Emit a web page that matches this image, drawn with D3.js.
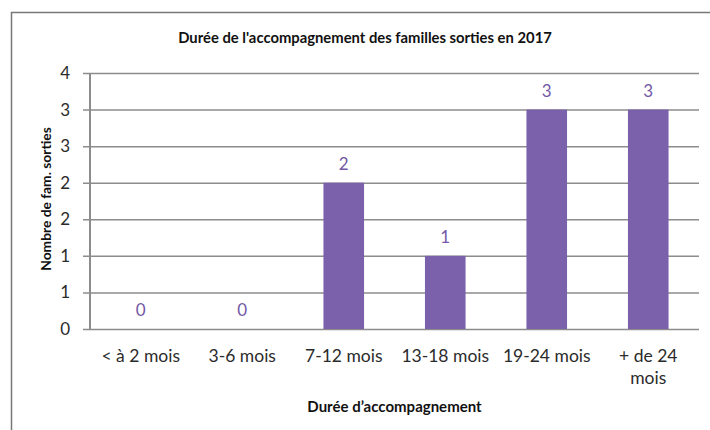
<!DOCTYPE html>
<html>
<head>
<meta charset="utf-8">
<script src="https://cdn.jsdelivr.net/npm/d3@7"></script>
<style>
    body { margin: 0; background: #fff; }
    svg { display: block; font-family: Lato, "Open Sans", sans-serif; }
</style>
</head>
<body>
<div id="chart"></div>
<script>
// Chart data
const categories = ['< à 2 mois', '3-6 mois', '7-12 mois', '13-18 mois', '19-24 mois', '+ de 24 mois'];
const familles = [0, 0, 2, 1, 3, 3];
const yTicks = [0, 0.5, 1, 1.5, 2, 2.5, 3, 3.5];

const chartTitle = "Durée de l'accompagnement des familles sorties en 2017";
const yTitle = 'Nombre de fam. sorties';
const xTitle = 'Durée d’accompagnement';

function renderChart() {
    const W = 710, H = 430;
    const margin = { top: 73, right: 11, bottom: 101, left: 90 };
    const width = W - margin.left - margin.right;
    const height = H - margin.top - margin.bottom;
    const barColor = '#7b61ab';
    const gridColor = '#8c8c8c';
    const textColor = '#2b2b2b';

    const svg = d3.select('#chart').append('svg')
        .attr('width', W)
        .attr('height', H);

    // Outer frame
    svg.append('rect')
        .attr('x', 11.5)
        .attr('y', 12.5)
        .attr('width', W + 10)
        .attr('height', H + 10)
        .attr('fill', 'none')
        .attr('stroke', '#777')
        .attr('stroke-width', 1.5);

    svg.append('text')
        .attr('x', 365)
        .attr('y', 43)
        .attr('text-anchor', 'middle')
        .attr('fill', '#111')
        .style('font-size', '14.8px')
        .style('font-weight', 'bold')
        .text(chartTitle);

    const g = svg.append('g')
        .attr('transform', `translate(${margin.left}, ${margin.top})`);

    const x = d3.scaleBand()
        .domain(categories)
        .range([0, width])
        .paddingInner(0.6)
        .paddingOuter(0.3);

    const y = d3.scaleLinear()
        .domain([0, 3.5])
        .range([height, 0]);

    // Grid lines + tick labels
    g.append('g')
        .call(d3.axisLeft(y)
            .tickValues(yTicks)
            .tickSize(-width - 7)
            .tickPadding(20)
            .tickFormat(d => Math.round(d)))
        .call(ax => ax.select('.domain').remove())
        .call(ax => ax.selectAll('.tick line')
            .attr('transform', 'translate(-7,0)')
            .attr('stroke', gridColor)
            .attr('stroke-width', 1.5))
        .call(ax => ax.selectAll('text')
            .attr('fill', textColor)
            .style('font-size', '17px')
            .style('font-family', 'Lato, sans-serif'));

    // Bars
    g.selectAll('.bar')
        .data(familles)
        .enter()
        .append('rect')
        .attr('class', 'bar')
        .attr('x', (d, i) => x(categories[i]))
        .attr('y', d => y(d))
        .attr('width', x.bandwidth())
        .attr('height', d => height - y(d))
        .attr('fill', barColor);

    // Value labels
    g.selectAll('.val')
        .data(familles)
        .enter()
        .append('text')
        .attr('class', 'val')
        .attr('x', (d, i) => x(categories[i]) + x.bandwidth() / 2)
        .attr('y', d => y(d) - 13)
        .attr('text-anchor', 'middle')
        .attr('fill', '#7258a6')
        .style('font-size', '17px')
        .text(d => d);

    // Vertical axis line
    g.append('line')
        .attr('x1', 0).attr('x2', 0)
        .attr('y1', 0).attr('y2', height)
        .attr('stroke', gridColor)
        .attr('stroke-width', 2);

    // Category labels (wrap long ones)
    const xAxis = g.append('g')
        .attr('transform', `translate(0, ${height})`);
    categories.forEach(c => {
        const lines = c === '+ de 24 mois' ? ['+ de 24', 'mois'] : [c];
        const t = xAxis.append('text')
            .attr('x', x(c) + x.bandwidth() / 2)
            .attr('y', 33)
            .attr('text-anchor', 'middle')
            .attr('fill', textColor)
            .style('font-size', '17.5px');
        lines.forEach((l, k) => {
            t.append('tspan')
                .attr('x', x(c) + x.bandwidth() / 2)
                .attr('dy', k === 0 ? 0 : 22)
                .text(l);
        });
    });

    // Axis titles
    svg.append('text')
        .attr('x', margin.left + width / 2)
        .attr('y', 412)
        .attr('text-anchor', 'middle')
        .attr('fill', '#111')
        .style('font-size', '15px')
        .style('font-weight', 'bold')
        .text(xTitle);

    svg.append('text')
        .attr('transform', 'translate(51, 199) rotate(-90)')
        .attr('text-anchor', 'middle')
        .attr('fill', '#111')
        .style('font-size', '13.8px')
        .style('font-weight', 'bold')
        .text(yTitle);
}

renderChart();
</script>
</body>
</html>
